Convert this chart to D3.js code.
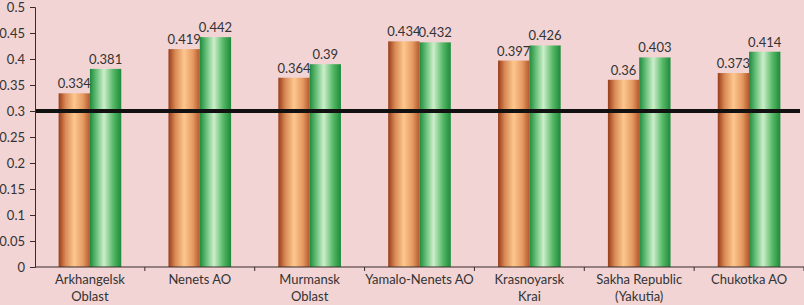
<!DOCTYPE html>
<html>
<head>
<meta charset="utf-8">
<script src="https://cdn.jsdelivr.net/npm/d3@7"></script>
<style>
  body { margin: 0; background: #f2d4d4; }
  svg { display: block; font-family: Lato, "Open Sans", sans-serif; }
</style>
</head>
<body>
<div class="chart"></div>
<script>
// regions on the x axis (line breaks kept as in the picture)
const regions = [
  ["Arkhangelsk", "Oblast"],
  ["Nenets AO"],
  ["Murmansk", "Oblast"],
  ["Yamalo-Nenets AO"],
  ["Krasnoyarsk", "Krai"],
  ["Sakha Republic", "(Yakutia)"],
  ["Chukotka AO"]
];
const seriesA = [0.334, 0.419, 0.364, 0.434, 0.397, 0.36, 0.373];   // orange bars
const seriesB = [0.381, 0.442, 0.39, 0.432, 0.426, 0.403, 0.414];   // green bars
const yTicks = [0, 0.05, 0.1, 0.15, 0.2, 0.25, 0.3, 0.35, 0.4, 0.45, 0.5];
const threshold = 0.3;

const width = 804, height = 305;
const margin = { top: 7, right: 0, bottom: 38, left: 35 };
const chartW = width - margin.left - margin.right;
const chartH = height - margin.top - margin.bottom;

const svg = d3.select(".chart").append("svg")
  .attr("width", width).attr("height", height);

svg.append("rect").attr("width", width).attr("height", height).attr("fill", "#f2d4d4");

// gradients for the cylinder look
const defs = svg.append("defs");
function gradient(id, stops) {
  const g = defs.append("linearGradient").attr("id", id)
    .attr("x1", "0%").attr("x2", "100%").attr("y1", "0%").attr("y2", "0%");
  stops.forEach(s => g.append("stop").attr("offset", s[0]).attr("stop-color", s[1]));
}
gradient("gOrange", [["0%", "#983c1a"], ["22%", "#d98a55"], ["50%", "#fcc78e"], ["78%", "#e59a62"], ["100%", "#b4582c"]]);
gradient("gGreen", [["0%", "#1d8a3c"], ["22%", "#6cc27c"], ["45%", "#cdeecb"], ["75%", "#55b866"], ["100%", "#1c8a3a"]]);

const g = svg.append("g").attr("transform", `translate(${margin.left},${margin.top})`);

const x = d3.scaleBand().domain(d3.range(regions.length)).range([0, chartW]).paddingInner(0).paddingOuter(0);
const y = d3.scaleLinear().domain([0, 0.5]).range([chartH, 0]);
const barW = x.bandwidth() * 0.285;

const groups = g.selectAll(".grp").data(regions.map((r, i) => ({ i, a: seriesA[i], b: seriesB[i] })))
  .enter().append("g").attr("class", "grp")
  .attr("transform", d => `translate(${x(d.i) + x.bandwidth() / 2},0)`);

groups.append("rect")
  .attr("x", -barW).attr("width", barW)
  .attr("y", d => y(d.a)).attr("height", d => chartH - y(d.a))
  .attr("fill", "url(#gOrange)");
groups.append("rect")
  .attr("x", 0).attr("width", barW)
  .attr("y", d => y(d.b)).attr("height", d => chartH - y(d.b))
  .attr("fill", "url(#gGreen)");

// threshold line
g.append("line")
  .attr("x1", 0).attr("x2", chartW - 4)
  .attr("y1", y(threshold)).attr("y2", y(threshold))
  .attr("stroke", "#111").attr("stroke-width", 4);

// value labels
groups.append("text")
  .attr("x", -barW / 2).attr("y", d => y(d.a) - 5)
  .attr("text-anchor", "middle").attr("font-size", "13px").attr("fill", "#333")
  .text(d => d.a);
groups.append("text")
  .attr("x", barW / 2).attr("y", d => y(d.b) - 5)
  .attr("text-anchor", "middle").attr("font-size", "13px").attr("fill", "#333")
  .text(d => d.b);

// y axis
const yAxis = g.append("g").call(d3.axisLeft(y).tickValues(yTicks).tickSize(5).tickPadding(5).tickFormat(d => d));
yAxis.select(".domain").attr("stroke", "#3a2a2a");
yAxis.selectAll(".tick line").attr("stroke", "#3a2a2a");
yAxis.selectAll("text").attr("font-size", "13px").attr("fill", "#333").attr("font-family", "Lato, sans-serif");

// x axis: line with ticks at band boundaries
const xAxis = g.append("g").attr("transform", `translate(0,${chartH})`);
xAxis.append("line").attr("x1", 0).attr("x2", chartW).attr("stroke", "#3a2a2a");
xAxis.selectAll(".bt").data(d3.range(1, regions.length + 1)).enter().append("line")
  .attr("x1", d => x(d - 1) + x.bandwidth()).attr("x2", d => x(d - 1) + x.bandwidth())
  .attr("y1", 0).attr("y2", 4).attr("stroke", "#3a2a2a");

const labels = xAxis.selectAll(".xl").data(regions).enter().append("text")
  .attr("text-anchor", "middle").attr("font-size", "13px").attr("fill", "#333")
  .attr("transform", (d, i) => `translate(${x(i) + x.bandwidth() / 2},17)`);
labels.selectAll("tspan").data(d => d).enter().append("tspan")
  .attr("x", 0).attr("dy", (d, i) => i === 0 ? 0 : 17).text(d => d);
</script>
</body>
</html>
